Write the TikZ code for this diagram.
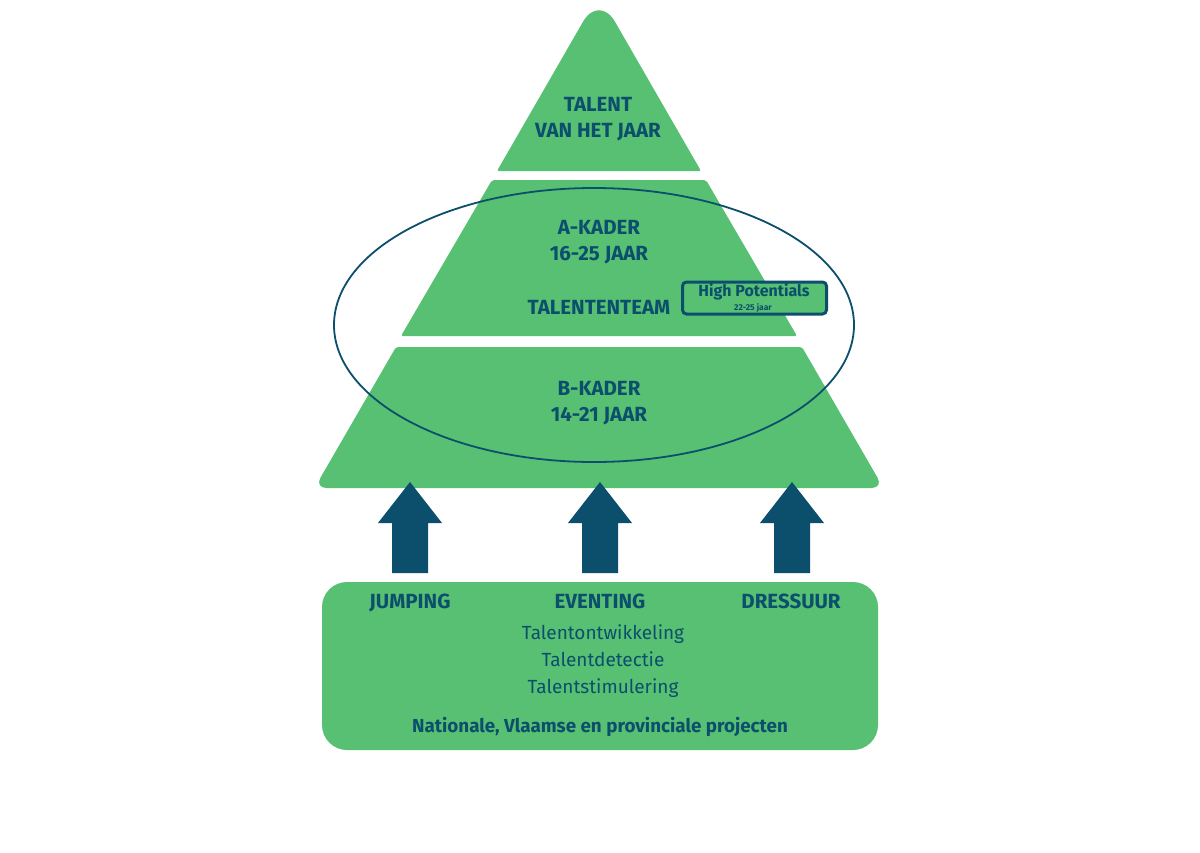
\documentclass[tikz,border=0pt]{standalone}
\usepackage{fontspec}
\setmainfont{Fira Sans}
\definecolor{pgreen}{HTML}{58C072}
\definecolor{pblue}{HTML}{0B4F6C}
\begin{document}
\begin{tikzpicture}[x=1pt,y=-1pt,
  section/.style={fill=pgreen},
  lbl/.style={text=pblue, font=\fontsize{20.5}{20.5}\selectfont\bfseries, anchor=base, inner sep=0pt},
  sub/.style={text=pblue, font=\fontsize{19}{19}\selectfont, anchor=base, inner sep=0pt},
  blockarrow/.style={fill=pblue}]
\useasboundingbox[fill=white] (0,0) rectangle (1200,852);
% pyramid sections
\fill[section, rounded corners=2pt] (497,171) [rounded corners=32pt] -- (599,-6) [rounded corners=2pt] -- (701,171) -- cycle;
\fill[section, rounded corners=2pt] (492,180) -- (706,180) -- (797,336) -- (401,336) -- cycle;
\fill[section, rounded corners=2pt] (396,347) -- (802,347) [rounded corners=12pt] -- (883.5,488) -- (314.5,488) [rounded corners=2pt] -- cycle;
% labels
\node[lbl] (t1) at (598,111) {TALENT};
\node[lbl] (t2) at (598,137) {VAN HET JAAR};
\node[lbl] (a1) at (599,234) {A-KADER};
\node[lbl] (a2) at (599,260) {16-25 JAAR};
\node[lbl] (a3) at (599,314) {TALENTENTEAM};
\node[lbl] (b1) at (599,395) {B-KADER};
\node[lbl] (b2) at (599,421) {14-21 JAAR};
% ellipse
\draw[pblue, line width=1.8pt] (594,325) ellipse [x radius=260, y radius=137];
% high potentials
\node[draw=pblue, line width=3pt, fill=pgreen, rounded corners=4pt, minimum width=144pt, minimum height=32pt, inner sep=0pt] (hp) at (754.5,298) {};
\node[text=pblue, font=\fontsize{16}{16}\selectfont\bfseries, anchor=base, inner sep=0pt] (hpt) at (754,296) {High Potentials};
\node[text=pblue, font=\fontsize{8.5}{8.5}\selectfont\bfseries, anchor=base, inner sep=0pt] (hps) at (753,310.5) {22-25 jaar};
% arrows
\fill[blockarrow] (410,482) -- (442,523) -- (428,523) -- (428,573) -- (392,573) -- (392,523) -- (378,523) -- cycle;
\fill[blockarrow] (600,482) -- (632,523) -- (618,523) -- (618,573) -- (582,573) -- (582,523) -- (568,523) -- cycle;
\fill[blockarrow] (792,482) -- (824,523) -- (810,523) -- (810,573) -- (774,573) -- (774,523) -- (760,523) -- cycle;
% base box
\node[fill=pgreen, rounded corners=25pt, minimum width=556pt, minimum height=168pt, inner sep=0pt] (base) at (600,666) {};
\node[lbl] (j) at (410,608) {JUMPING};
\node[lbl] (e) at (600,608) {EVENTING};
\node[lbl] (d) at (791,608) {DRESSUUR};
\node[sub] (s1) at (603,639) {Talentontwikkeling};
\node[sub] (s2) at (603,666) {Talentdetectie};
\node[sub] (s3) at (603,693) {Talentstimulering};
\node[lbl, font=\fontsize{18.8}{18.8}\selectfont\bfseries] (n) at (600,732) {Nationale, Vlaamse en provinciale projecten};
\end{tikzpicture}
\end{document}
